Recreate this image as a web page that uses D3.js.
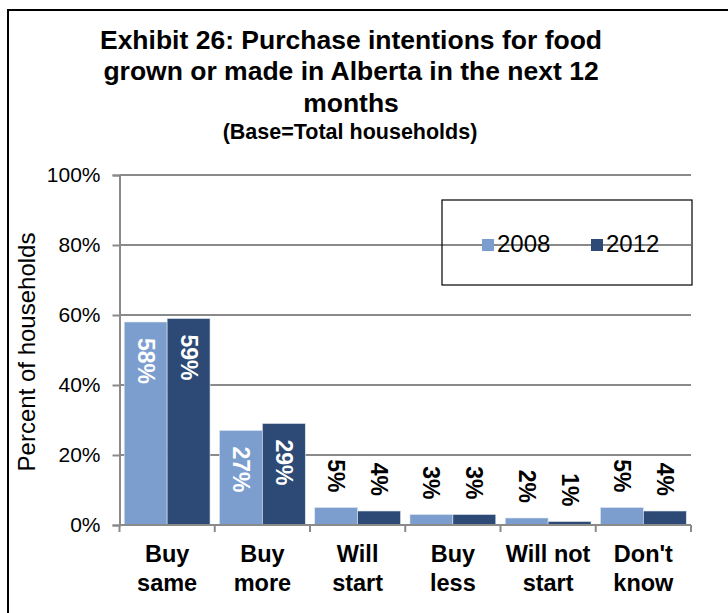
<!DOCTYPE html>
<html>
<head>
<meta charset="utf-8">
<script src="https://cdn.jsdelivr.net/npm/d3@7"></script>
<style>
  html, body { margin: 0; padding: 0; background: #fff; }
  svg { display: block; font-family: "Liberation Sans", Arial, sans-serif; }
</style>
</head>
<body>
<svg id="chart" width="728" height="613"></svg>
<script>
// Purchase intentions, share of households (%)
const categories = [["Buy", "same"], ["Buy", "more"], ["Will", "start"], ["Buy", "less"], ["Will not", "start"], ["Don't", "know"]];
const seriesNames = ["2008", "2012"];
const values2008 = [58, 27, 5, 3, 2, 5];
const values2012 = [59, 29, 4, 3, 1, 4];
const yTicks = [0, 20, 40, 60, 80, 100];
const titleLines = ["Exhibit 26: Purchase intentions for food", "grown or made in Alberta in the next 12", "months"];
const subtitle = "(Base=Total households)";
const yTitle = "Percent of households";

const colors = { "2008": "#7c9ecf", "2012": "#2c4a75" };
const gridColor = "#8a8a8a";
const fontFamily = "'Liberation Sans', Arial, sans-serif";

const svg = d3.select("#chart");

// outer frame
svg.append("rect")
  .attr("x", 8).attr("y", 10).attr("width", 740).attr("height", 640)
  .attr("fill", "none").attr("stroke", "#000").attr("stroke-width", 2);

// title block
const title = svg.append("g").attr("text-anchor", "middle").attr("font-weight", "bold").attr("fill", "#000");
titleLines.forEach((t, i) => {
  title.append("text").attr("x", 351).attr("y", 48.5 + i * 31.7).attr("font-size", 26.5).text(t);
});
title.append("text").attr("x", 350).attr("y", 139).attr("font-size", 21.5).text(subtitle);

const plot = { left: 119.5, right: 691, top: 175, bottom: 525 };

const y = d3.scaleLinear().domain([0, 100]).range([plot.bottom, plot.top]);
const x = d3.scaleBand().domain(d3.range(categories.length)).range([plot.left, plot.right]).padding(0);
const xs = d3.scaleBand().domain(seriesNames).range([0, x.bandwidth()]).paddingInner(0).paddingOuter(0.11);

// gridlines
svg.append("g")
  .selectAll("line")
  .data(yTicks.filter(d => d > 0))
  .join("line")
  .attr("x1", plot.left).attr("x2", plot.right)
  .attr("y1", d => y(d)).attr("y2", d => y(d))
  .attr("stroke", gridColor).attr("stroke-width", 2);

// y axis
const yAxis = svg.append("g")
  .attr("transform", `translate(${plot.left},0)`)
  .call(d3.axisLeft(y).tickValues(yTicks).tickFormat(d => d + "%").tickSize(7).tickPadding(12));
yAxis.select(".domain").attr("stroke", gridColor).attr("stroke-width", 2);
yAxis.selectAll(".tick line").attr("stroke", gridColor).attr("stroke-width", 2);
yAxis.selectAll(".tick text").attr("font-size", 21).attr("fill", "#000")
  .attr("font-family", fontFamily);

// y axis title
svg.append("text")
  .attr("transform", `translate(35,352) rotate(-90)`)
  .attr("text-anchor", "middle")
  .attr("font-size", 24)
  .attr("fill", "#000")
  .text(yTitle);

// bars
const rows = categories.map((c, i) => ({ i, vals: [values2008[i], values2012[i]] }));
const groups = svg.append("g").selectAll("g")
  .data(rows)
  .join("g")
  .attr("transform", d => `translate(${x(d.i)},0)`);

groups.selectAll("rect")
  .data(d => seriesNames.map((s, k) => ({ s, v: d.vals[k] })))
  .join("rect")
  .attr("x", d => xs(d.s))
  .attr("width", xs.bandwidth())
  .attr("y", d => y(d.v))
  .attr("height", d => y(0) - y(d.v))
  .attr("fill", d => colors[d.s])
  .attr("stroke", "#dfe6f0").attr("stroke-width", 0.6);

// value labels, rotated to read top to bottom
const fitsInside = d => y(0) - y(d.v) > 60;
groups.selectAll("text")
  .data(d => seriesNames.map((s, k) => ({ s, v: d.vals[k] })))
  .join("text")
  .attr("transform", d => {
    const cx = xs(d.s) + xs.bandwidth() / 2;
    const ty = fitsInside(d) ? y(d.v) + 16 : y(d.v) - 15;
    return `translate(${cx},${ty}) rotate(90)`;
  })
  .attr("text-anchor", d => (fitsInside(d) ? "start" : "end"))
  .attr("dominant-baseline", "central")
  .attr("font-size", 23)
  .attr("font-weight", "bold")
  .attr("fill", d => (fitsInside(d) ? "#fff" : "#000"))
  .text(d => d.v + "%");

// x axis
const xAxis = svg.append("g").attr("transform", `translate(0,${plot.bottom})`);
xAxis.append("line")
  .attr("x1", plot.left).attr("x2", plot.right)
  .attr("stroke", gridColor).attr("stroke-width", 2);
xAxis.selectAll(".xt")
  .data(d3.range(categories.length + 1))
  .join("line")
  .attr("class", "xt")
  .attr("x1", i => i < categories.length ? x(i) : plot.right)
  .attr("x2", i => i < categories.length ? x(i) : plot.right)
  .attr("y1", 0).attr("y2", 7)
  .attr("stroke", gridColor).attr("stroke-width", 2);

const catLabels = svg.append("g").attr("text-anchor", "middle").attr("font-weight", "bold").attr("font-size", 23.5);
categories.forEach((lines, i) => {
  lines.forEach((t, j) => {
    catLabels.append("text")
      .attr("x", x(i) + x.bandwidth() / 2)
      .attr("y", 562 + j * 28.5)
      .text(t);
  });
});

// legend
const legend = svg.append("g");
legend.append("rect")
  .attr("x", 442).attr("y", 200).attr("width", 250).attr("height", 85)
  .attr("fill", "none").attr("stroke", "#000").attr("stroke-width", 1.2);
const legendX = [482, 591];
seriesNames.forEach((s, k) => {
  legend.append("rect")
    .attr("x", legendX[k]).attr("y", 239).attr("width", 12).attr("height", 12)
    .attr("fill", colors[s]);
  legend.append("text")
    .attr("x", legendX[k] + 15).attr("y", 252)
    .attr("font-size", 24).attr("fill", "#000")
    .text(s);
});
</script>
</body>
</html>
